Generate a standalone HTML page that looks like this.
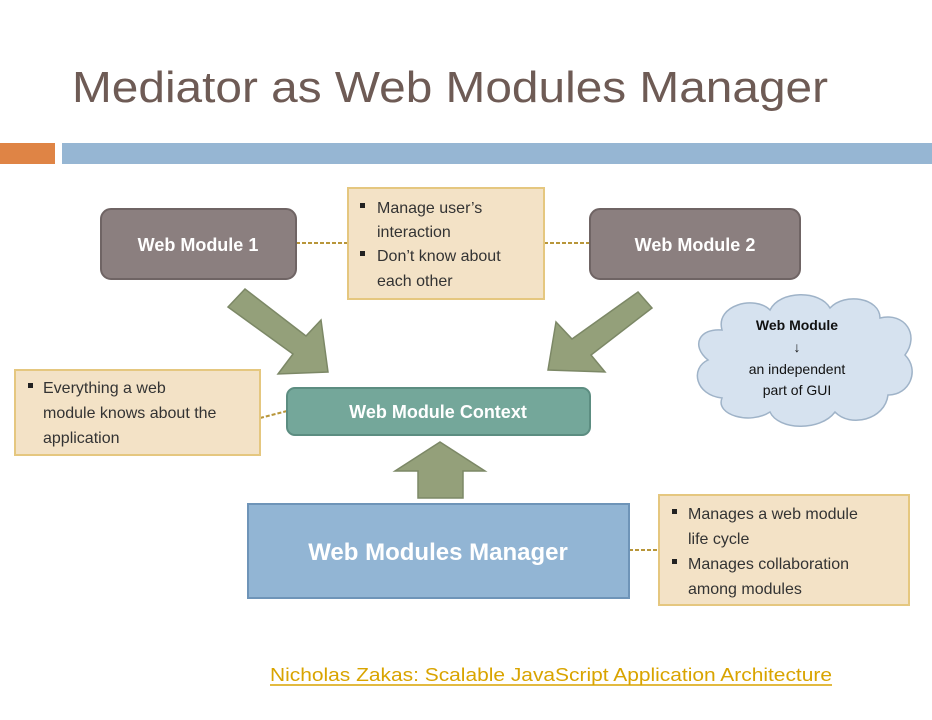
<!DOCTYPE html>
<html><head><meta charset="utf-8"><style>
html,body{margin:0;padding:0;background:#fff;}
svg{display:block;}
text{font-family:"Liberation Sans",sans-serif;}
</style></head><body>
<svg width="932" height="720" viewBox="0 0 932 720" xmlns="http://www.w3.org/2000/svg">
<text x="72" y="102" font-size="44" fill="#6e5b55" textLength="756" lengthAdjust="spacingAndGlyphs">Mediator as Web Modules Manager</text>
<rect x="0" y="143" width="55" height="21" fill="#df8445"/>
<rect x="62" y="143" width="870" height="21" fill="#96b6d3"/>

<!-- dashed connectors -->
<g stroke="#b8963a" stroke-width="2" stroke-dasharray="4,2" fill="none">
<line x1="296" y1="243" x2="348" y2="243"/>
<line x1="544" y1="243" x2="590" y2="243"/>
<line x1="260" y1="418" x2="287" y2="411"/>
<line x1="629" y1="550" x2="659" y2="550"/>
</g>

<!-- Web Module 1 / 2 -->
<rect x="101" y="209" width="195" height="70" rx="10" fill="#8b7f7f" stroke="#6f6464" stroke-width="2"/>
<text x="198" y="251" font-size="18" font-weight="bold" fill="#fff" text-anchor="middle">Web Module 1</text>
<rect x="590" y="209" width="210" height="70" rx="10" fill="#8b7f7f" stroke="#6f6464" stroke-width="2"/>
<text x="695" y="251" font-size="18" font-weight="bold" fill="#fff" text-anchor="middle">Web Module 2</text>

<!-- top note -->
<rect x="348" y="188" width="196" height="111" fill="#f3e2c6" stroke="#e5c77f" stroke-width="2"/>
<g font-size="16" fill="#333">
<rect x="360" y="203" width="5" height="5" fill="#222"/>
<text x="377" y="213">Manage user’s</text>
<text x="377" y="237">interaction</text>
<rect x="360" y="251" width="5" height="5" fill="#222"/>
<text x="377" y="261">Don’t know about</text>
<text x="377" y="286">each other</text>
</g>

<!-- diagonal arrows -->
<polygon points="228,307 245,289 306,336 321,320 328,372 278,374 293,354" fill="#94a07a" stroke="#7c8866" stroke-width="1.5"/>
<polygon points="638,292 652,308 591,355 605,372 548,370 556,322 572,339" fill="#94a07a" stroke="#7c8866" stroke-width="1.5"/>

<!-- context -->
<rect x="287" y="388" width="303" height="47" rx="8" fill="#74a79a" stroke="#5c8d81" stroke-width="2"/>
<text x="438" y="418" font-size="18" font-weight="bold" fill="#fff" text-anchor="middle">Web Module Context</text>

<!-- left note -->
<rect x="15" y="370" width="245" height="85" fill="#f3e2c6" stroke="#e5c77f" stroke-width="2"/>
<g font-size="16" fill="#333">
<rect x="28" y="383" width="5" height="5" fill="#222"/>
<text x="43" y="393">Everything a web</text>
<text x="43" y="418">module knows about the</text>
<text x="43" y="443">application</text>
</g>

<!-- up arrow -->
<polygon points="440,442 485,471 463,471 463,498 418,498 418,471 395,471" fill="#94a07a" stroke="#7c8866" stroke-width="1.5"/>

<!-- manager -->
<rect x="248" y="504" width="381" height="94" fill="#92b5d4" stroke="#6e94b8" stroke-width="2"/>
<text x="438" y="560" font-size="24" font-weight="bold" fill="#fff" text-anchor="middle">Web Modules Manager</text>

<!-- right note -->
<rect x="659" y="495" width="250" height="110" fill="#f3e2c6" stroke="#e5c77f" stroke-width="2"/>
<g font-size="16" fill="#333">
<rect x="672" y="509" width="5" height="5" fill="#222"/>
<text x="688" y="519">Manages a web module</text>
<text x="688" y="544">life cycle</text>
<rect x="672" y="559" width="5" height="5" fill="#222"/>
<text x="688" y="569">Manages collaboration</text>
<text x="688" y="594">among modules</text>
</g>

<!-- cloud -->
<g fill="#d6e2ef" stroke="#9fb3c8" stroke-width="1.5">
<path d="M722,330 C715,305 755,295 770,310 C780,290 820,290 830,308 C845,292 880,298 880,318 C905,312 920,335 905,355 C920,370 910,395 888,395 C885,420 850,428 835,412 C820,432 778,430 770,412 C750,425 715,415 722,398 C695,395 690,368 708,360 C690,345 700,328 722,330 Z"/>
</g>
<text x="797" y="330" font-size="14" font-weight="bold" fill="#111" text-anchor="middle">Web Module</text>
<text x="797" y="352" font-size="14" fill="#111" text-anchor="middle">↓</text>
<text x="797" y="374" font-size="14" fill="#111" text-anchor="middle">an independent</text>
<text x="797" y="395" font-size="14" fill="#111" text-anchor="middle">part of GUI</text>

<!-- link -->
<text x="270" y="681" font-size="18" fill="#d9a400" textLength="562" lengthAdjust="spacingAndGlyphs">Nicholas Zakas: Scalable JavaScript Application Architecture</text>
<line x1="270" y1="685" x2="832" y2="685" stroke="#d9a400" stroke-width="1.5"/>
</svg>
</body></html>
